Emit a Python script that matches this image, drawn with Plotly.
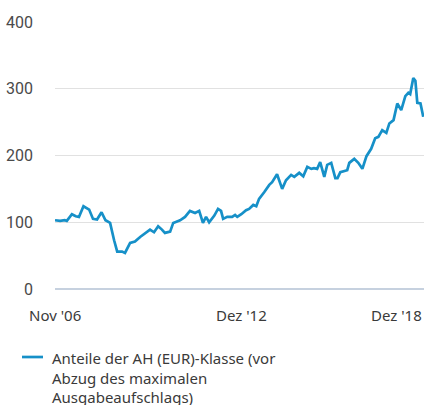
import plotly.graph_objects as go

# Fund share class performance (indexed), Nov 2006 - Dec 2018
dates = [
    "2006-11-30", "2007-01-30", "2007-03-27", "2007-04-20", "2007-06-20", "2007-08-05",
    "2007-09-12", "2007-11-05", "2008-01-12", "2008-02-27", "2008-04-15", "2008-06-08",
    "2008-07-25", "2008-09-18", "2008-11-05", "2008-12-12", "2009-02-08", "2009-03-15",
    "2009-05-15", "2009-07-12", "2009-09-12", "2009-11-12", "2010-01-08", "2010-02-25",
    "2010-04-15", "2010-05-30", "2010-07-05", "2010-09-05", "2010-10-12", "2011-01-02",
    "2011-03-02", "2011-04-30", "2011-06-30", "2011-08-18", "2011-10-02", "2011-11-08",
    "2011-12-15", "2012-02-15", "2012-03-30", "2012-05-05", "2012-05-30", "2012-07-18",
    "2012-09-15", "2012-10-20", "2012-11-15", "2013-01-02", "2013-02-28", "2013-04-05",
    "2013-05-25", "2013-06-30", "2013-08-02", "2013-10-02", "2013-12-02", "2014-01-05",
    "2014-03-05", "2014-05-05", "2014-06-20", "2014-08-20", "2014-09-27", "2014-11-25",
    "2015-01-12", "2015-03-01", "2015-04-18", "2015-05-20", "2015-06-27", "2015-08-02",
    "2015-09-20", "2015-10-25", "2015-12-12", "2016-01-30", "2016-02-25", "2016-03-30",
    "2016-05-15", "2016-06-20", "2016-07-15", "2016-09-12", "2016-10-30", "2016-12-18",
    "2017-02-05", "2017-04-02", "2017-05-20", "2017-06-27", "2017-08-12", "2017-09-30",
    "2017-11-05", "2017-12-25", "2018-02-08", "2018-03-27", "2018-05-15", "2018-06-20",
    "2018-07-12", "2018-08-18", "2018-09-12", "2018-10-05", "2018-11-12", "2018-12-15",
]
values = [
    103, 102, 103, 102, 112, 109,
    108, 124, 119, 105, 104, 115,
    103, 99, 73, 56, 56, 54,
    69, 71, 78, 83, 89, 85,
    94, 89, 84, 86, 99, 103,
    108, 117, 114, 117, 99, 108,
    100, 110, 120, 117, 105, 108,
    108, 111, 108, 112, 118, 120,
    126, 124, 135, 145, 156, 160,
    172, 150, 163, 171, 168, 174,
    169, 183, 180, 181, 180, 190,
    168, 186, 189, 166, 166, 175,
    177, 178, 189, 195, 189, 180,
    199, 210, 226, 228, 238, 234,
    248, 253, 278, 268, 289, 294,
    292, 316, 312, 279, 278, 258,
]
series_name = "Anteile der AH (EUR)-Klasse (vor<br>Abzug des maximalen<br>Ausgabeaufschlags)"

x_tick_dates = ["2006-11-30", "2012-12-31", "2018-12-24"]
x_tick_text = ["Nov '06", "Dez '12", "Dez '18"]
x_tick_anchor = ["center", "center", "right"]
y_ticks = [0, 100, 200, 300, 400]

LINE_BLUE = "#1690c8"
TEXT = "#3a3a3a"
SANS = "Noto Sans, sans-serif"

fig = go.Figure()
fig.add_trace(go.Scatter(
    x=dates, y=values, mode="lines", name=series_name, showlegend=False,
    line=dict(color=LINE_BLUE, width=2.7),
))

# date labels under the axis
for d, t, a in zip(x_tick_dates, x_tick_text, x_tick_anchor):
    fig.add_annotation(
        x=d, y=0, xref="x", yref="paper", text=t, showarrow=False,
        xanchor=a, yanchor="top", yshift=-14,
        font=dict(family=SANS, size=15, color=TEXT),
    )

# key below the chart: short line swatch plus the series name
fig.add_shape(
    type="line", xref="paper", yref="paper",
    x0=-0.0894, x1=-0.0325, y0=-0.2547, y1=-0.2547,
    line=dict(color=LINE_BLUE, width=2.7),
)
fig.add_annotation(
    x=-0.0136, y=-0.2135, xref="paper", yref="paper", text=series_name,
    showarrow=False, xanchor="left", yanchor="top", align="left",
    font=dict(family=SANS, size=15, color=TEXT),
)

fig.update_layout(
    width=428, height=405,
    margin=dict(l=55, r=4, t=22, b=116),
    paper_bgcolor="white", plot_bgcolor="white",
    showlegend=False,
    xaxis=dict(
        type="date", range=["2006-11-30", "2018-12-24"],
        showgrid=False, zeroline=False, showline=False,
        showticklabels=False, ticks="",
    ),
    yaxis=dict(
        range=[0, 400], tickvals=y_ticks, fixedrange=True,
        showgrid=True, gridcolor="#e1e1e1", gridwidth=1.3,
        zeroline=True, zerolinecolor="#c6d1df", zerolinewidth=1.6,
        showline=False, ticks="", ticklabelstandoff=21,
        tickfont=dict(family="Liberation Sans Narrow, Roboto, sans-serif",
                      size=16, color="#4a4a4a"),
    ),
)

fig.write_html("out.html")
